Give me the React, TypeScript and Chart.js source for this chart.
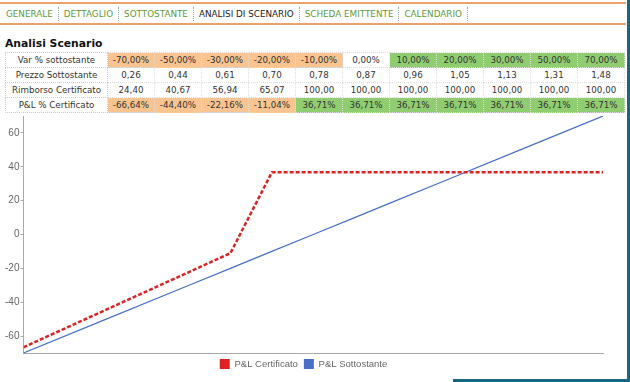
import React, { useEffect, useRef } from "react";
import { Chart, registerables } from "chart.js";

Chart.register(...registerables);

const tabs = ["GENERALE", "DETTAGLIO", "SOTTOSTANTE", "ANALISI DI SCENARIO", "SCHEDA EMITTENTE", "CALENDARIO"];
const activeTab = "ANALISI DI SCENARIO";

const rowLabels = ["Var % sottostante", "Prezzo Sottostante", "Rimborso Certificato", "P&L % Certificato"];
const varPct = [-70, -50, -30, -20, -10, 0, 10, 20, 30, 50, 70];
const prezzo = [0.26, 0.44, 0.61, 0.70, 0.78, 0.87, 0.96, 1.05, 1.13, 1.31, 1.48];
const rimborso = [24.40, 40.67, 56.94, 65.07, 100, 100, 100, 100, 100, 100, 100];
const plCert = [-66.64, -44.40, -22.16, -11.04, 36.71, 36.71, 36.71, 36.71, 36.71, 36.71, 36.71];
const plSott = [-70, -50, -30, -20, -10, 0, 10, 20, 30, 50, 70];
const yTicks = [-60, -40, -20, 0, 20, 40, 60];

const ORANGE = "#f9c48f";
const GREEN = "#8fcd70";
const RED = "#dc2222";
const BLUE = "#4a70c6";

const fmt = (v: number) => v.toFixed(2).replace(".", ",");
const cellBg = (v: number) => (v < 0 ? ORANGE : v > 0 ? GREEN : "#fff");

export default function App() {
  const ref = useRef<HTMLCanvasElement>(null);
  useEffect(() => {
    const ctx = ref.current!;
    const chart = new Chart(ctx, {
      type: "line",
      data: {
        datasets: [
          {
            label: "P&L Certificato",
            data: varPct.map((x, i) => ({ x, y: plCert[i] })),
            borderColor: RED,
            backgroundColor: RED,
            borderWidth: 2.5,
            borderDash: [4, 2],
            pointRadius: 0,
            tension: 0,
          },
          {
            label: "P&L Sottostante",
            data: varPct.map((x, i) => ({ x, y: plSott[i] })),
            borderColor: BLUE,
            backgroundColor: BLUE,
            borderWidth: 1.2,
            pointRadius: 0,
            tension: 0,
          },
        ],
      },
      options: {
        animation: false,
        responsive: false,
        layout: { padding: { left: 4, right: 23, top: 1, bottom: 3 } },
        plugins: {
          tooltip: { enabled: false },
          legend: {
            position: "bottom",
            labels: {
              boxWidth: 10,
              boxHeight: 10,
              padding: 6,
              color: "#666",
              font: { family: "Liberation Sans", size: 9.5 },
              generateLabels: (c: any) =>
                c.data.datasets.map((d: any, i: number) => ({
                  text: d.label,
                  fillStyle: d.borderColor,
                  strokeStyle: d.borderColor,
                  lineWidth: 0,
                  lineDash: [],
                  hidden: false,
                  datasetIndex: i,
                  fontColor: "#666",
                })),
            },
          },
        },
        scales: {
          x: {
            type: "linear",
            min: -70,
            max: 70,
            ticks: { display: false },
            grid: { display: false, drawTicks: false },
            border: { display: true, color: "#aaa" },
          },
          y: {
            min: -70,
            max: 70,
            afterBuildTicks: (s: any) => {
              s.ticks = yTicks.map((v) => ({ value: v }));
            },
            ticks: { color: "#666", font: { family: "Liberation Sans", size: 10 }, padding: 1 },
            grid: { drawOnChartArea: false, drawTicks: true, tickLength: 3, color: "#aaa" },
            border: { display: true, color: "#aaa" },
          },
        },
      },
    } as any);
    return () => chart.destroy();
  }, []);

  const rows: { label: string; vals: string[]; bg: (i: number) => string }[] = [
    { label: rowLabels[0], vals: varPct.map((v) => fmt(v) + "%"), bg: (i) => cellBg(varPct[i]) },
    { label: rowLabels[1], vals: prezzo.map(fmt), bg: () => "#fff" },
    { label: rowLabels[2], vals: rimborso.map(fmt), bg: () => "#fff" },
    { label: rowLabels[3], vals: plCert.map((v) => fmt(v) + "%"), bg: (i) => cellBg(plCert[i]) },
  ];

  return (
    <div
      style={{
        position: "fixed",
        left: 0,
        top: 0,
        width: 630,
        height: 382,
        background: "#fff",
        overflow: "hidden",
        fontFamily: "DejaVu Sans, Verdana, sans-serif",
      }}
    >
      <div style={{ position: "absolute", left: 0, top: 2, width: 626, height: 2, background: "#eaa46a" }} />
      <div style={{ position: "absolute", left: 0, top: 23, width: 626, height: 2, background: "#eaa46a" }} />
      <div style={{ position: "absolute", left: 1, top: 7, display: "flex", fontSize: 8.8, lineHeight: "14px" }}>
        {tabs.map((t) => (
          <span
            key={t}
            style={{
              padding: "0 5px",
              borderRight: "1px dotted #8aa",
              color: t === activeTab ? "#222" : "#5f9a3a",
            }}
          >
            {t}
          </span>
        ))}
      </div>
      <div style={{ position: "absolute", left: 5, top: 37, fontSize: 10.8, fontWeight: "bold", color: "#111" }}>
        Analisi Scenario
      </div>
      <table
        style={{
          position: "absolute",
          left: 5,
          top: 52,
          borderCollapse: "collapse",
          tableLayout: "fixed",
          fontSize: 8.7,
          color: "#333",
        }}
      >
        <colgroup>
          <col style={{ width: 102 }} />
          {varPct.map((_, i) => (
            <col key={i} style={{ width: 47 }} />
          ))}
        </colgroup>
        <tbody>
          {rows.map((r) => (
            <tr key={r.label} style={{ height: 15 }}>
              <td style={{ border: "1px dotted #ccc", textAlign: "center", padding: 0 }}>{r.label}</td>
              {r.vals.map((v, i) => (
                <td
                  key={i}
                  style={{ border: "1px dotted #ddd", textAlign: "center", padding: 0, background: r.bg(i) }}
                >
                  {v}
                </td>
              ))}
            </tr>
          ))}
        </tbody>
      </table>
      <canvas ref={ref} width={626} height={273} style={{ position: "absolute", left: 0, top: 109 }} />
      <div style={{ position: "absolute", left: 627, top: 0, width: 3, height: 382, background: "#1a6680" }} />
      <div style={{ position: "absolute", left: 453, top: 379, width: 177, height: 3, background: "#1a6680" }} />
    </div>
  );
}
